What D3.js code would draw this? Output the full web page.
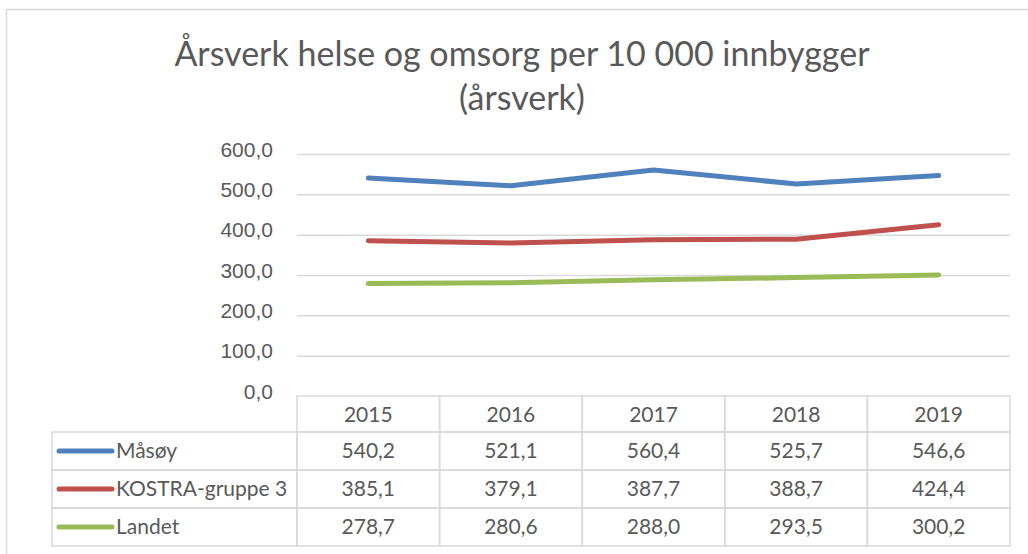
<!DOCTYPE html>
<html>
<head>
<meta charset="utf-8">
<script src="https://cdn.jsdelivr.net/npm/d3@7"></script>
<style>
body{margin:0;background:#fff;}
svg{display:block;font-family:Lato,"Liberation Sans",sans-serif;}
</style>
</head>
<body>
<div class="canvas"></div>
<script>
const years=["2015","2016","2017","2018","2019"];
const seriesNames=["Måsøy","KOSTRA-gruppe 3","Landet"];
const masoy=[540.2,521.1,560.4,525.7,546.6];
const kostra=[385.1,379.1,387.7,388.7,424.4];
const landet=[278.7,280.6,288.0,293.5,300.2];
const yTicks=[0,100,200,300,400,500,600];
const colors=["#4f81bd","#c0504d","#9bbb59"];

const W=1028,H=554,
plotLeft=297,plotRight=1010,plotTop=154,plotBottom=396,
rowH=38,tableLeft=52,
textColor="#595959",gridColor="#d9d9d9";

const fmt=v=>d3.format(".1f")(v).replace(".",",");
const series=[masoy,kostra,landet];

const svg=d3.select(".canvas").append("svg")
  .attr("width",W).attr("height",H);

// outer chart border
svg.append("rect")
  .attr("x",6.5).attr("y",9.5).attr("width",W).attr("height",H)
  .attr("fill","none").attr("stroke",gridColor).attr("stroke-width",1.5);

svg.append("text")
  .attr("x",522).attr("y",66)
  .attr("text-anchor","middle").attr("fill",textColor)
  .style("font-size","34px")
  .text("Årsverk helse og omsorg per 10 000 innbygger");
svg.append("text")
  .attr("x",522).attr("y",110)
  .attr("text-anchor","middle").attr("fill",textColor)
  .style("font-size","34px")
  .text("(årsverk)");

const x=d3.scaleBand().domain(years).range([plotLeft,plotRight]);
const y=d3.scaleLinear().domain([0,600]).range([plotBottom,plotTop]);

// gridlines
svg.append("g").selectAll("line")
  .data(yTicks.filter(d=>d>0))
  .enter().append("line")
  .attr("x1",plotLeft).attr("x2",plotRight)
  .attr("y1",d=>y(d)+0.5).attr("y2",d=>y(d)+0.5)
  .attr("stroke",gridColor).attr("stroke-width",1.5);

const yAxis=d3.axisLeft(y).tickValues(yTicks).tickFormat(fmt).tickSize(0).tickPadding(24);
const gy=svg.append("g").attr("transform",`translate(${plotLeft},0)`).call(yAxis);
gy.select(".domain").remove();
gy.selectAll("text").attr("fill",textColor).style("font-size","21px").attr("dy","0.1em");

// lines
const line=d3.line().x((d,i)=>x(years[i])+x.bandwidth()/2).y(d=>y(d));
svg.append("g").selectAll("path")
  .data(series).enter().append("path")
  .attr("d",line)
  .attr("fill","none")
  .attr("stroke",(d,i)=>colors[i])
  .attr("stroke-width",5)
  .attr("stroke-linecap","round")
  .attr("stroke-linejoin","round");

// data table
const table=svg.append("g");
table.selectAll(".hdr").data(years).enter().append("rect")
  .attr("x",d=>x(d)).attr("y",plotBottom)
  .attr("width",x.bandwidth()).attr("height",36)
  .attr("fill","none").attr("stroke",gridColor).attr("stroke-width",1.5);
table.selectAll(".hdrt").data(years).enter().append("text")
  .attr("x",d=>x(d)+x.bandwidth()/2).attr("y",plotBottom+26)
  .attr("text-anchor","middle").attr("fill",textColor)
  .style("font-size","21px").text(d=>d);

const firstRow=plotBottom+36;
series.forEach((vals,si)=>{
  const ry=firstRow+rowH*si;
  table.append("rect")
    .attr("x",tableLeft).attr("y",ry)
    .attr("width",plotLeft-tableLeft).attr("height",rowH)
    .attr("fill","none").attr("stroke",gridColor).attr("stroke-width",1.5);
  table.append("line")
    .attr("x1",tableLeft+7).attr("x2",tableLeft+60)
    .attr("y1",ry+rowH/2).attr("y2",ry+rowH/2)
    .attr("stroke",colors[si]).attr("stroke-width",5).attr("stroke-linecap","round");
  table.append("text")
    .attr("x",tableLeft+64).attr("y",ry+rowH/2+7)
    .attr("fill",textColor).style("font-size","21px")
    .text(seriesNames[si]);
  vals.forEach((v,i)=>{
    table.append("rect")
      .attr("x",x(years[i])).attr("y",ry)
      .attr("width",x.bandwidth()).attr("height",rowH)
      .attr("fill","none").attr("stroke",gridColor).attr("stroke-width",1.5);
    table.append("text")
      .attr("x",x(years[i])+x.bandwidth()/2).attr("y",ry+rowH/2+7)
      .attr("text-anchor","middle").attr("fill",textColor)
      .style("font-size","21px").text(fmt(v));
  });
});
</script>
</body>
</html>
